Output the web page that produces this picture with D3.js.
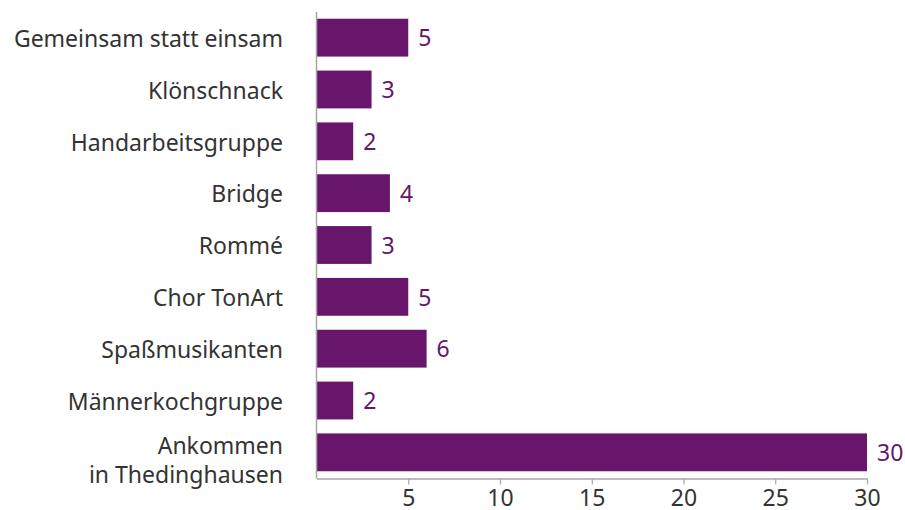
<!DOCTYPE html>
<html>
<head>
<meta charset="utf-8">
<script src="https://cdn.jsdelivr.net/npm/d3@7"></script>
<style>
  body { margin: 0; background: #fff; }
  text { font-family: "Noto Sans", sans-serif; }
</style>
</head>
<body>
<svg id="chart" width="905" height="510"></svg>
<script>
var categories = ['Gemeinsam statt einsam', 'Klönschnack', 'Handarbeitsgruppe', 'Bridge', 'Rommé',
  'Chor TonArt', 'Spaßmusikanten', 'Männerkochgruppe', 'Ankommen\nin Thedinghausen'];
var values = [5, 3, 2, 4, 3, 5, 6, 2, 30];
var tickValues = [5, 10, 15, 20, 25, 30];

var barColor = '#68166b';
var axisColor = '#a6a6a6';
var fontSize = 23;
var svg = d3.select('#chart');

var x = d3.scaleLinear().domain([0, 30]).range([316.5, 867]);
var y = d3.scaleBand().domain(categories).range([12, 478]).paddingInner(0.27).paddingOuter(0.13);

// bars
svg.selectAll('rect.bar').data(values).enter().append('rect')
  .attr('class', 'bar')
  .attr('x', x(0))
  .attr('y', function(d, i) { return y(categories[i]); })
  .attr('width', function(d) { return x(d) - x(0); })
  .attr('height', y.bandwidth())
  .attr('fill', barColor);

// value labels
svg.selectAll('text.val').data(values).enter().append('text')
  .attr('class', 'val')
  .attr('x', function(d) { return x(d) + 10; })
  .attr('y', function(d, i) { return y(categories[i]) + y.bandwidth() / 2; })
  .attr('dy', '0.38em')
  .attr('fill', barColor)
  .attr('font-size', fontSize)
  .text(function(d) { return d; });

// category labels
svg.selectAll('text.cat').data(categories).enter().append('text')
  .attr('class', 'cat')
  .attr('x', 283)
  .attr('y', function(d) { return y(d) + y.bandwidth() / 2; })
  .attr('text-anchor', 'end')
  .attr('fill', '#333')
  .attr('font-size', fontSize)
  .each(function(d) {
    var lines = d.split('\n');
    var el = d3.select(this);
    lines.forEach(function(l, k) {
      el.append('tspan')
        .attr('x', 283)
        .attr('dy', lines.length === 1 ? '0.4em' : (k === 0 ? '2px' : '29px'))
        .text(l);
    });
  });

// y axis line
svg.append('line')
  .attr('x1', x(0)).attr('x2', x(0))
  .attr('y1', 12).attr('y2', 478.5)
  .attr('stroke', axisColor).attr('stroke-width', 1.5);

// x axis
var xAxis = svg.append('g')
  .attr('transform', 'translate(0,478.5)')
  .call(d3.axisBottom(x).tickValues(tickValues).tickSize(6).tickSizeOuter(0).tickPadding(5));
xAxis.select('.domain').attr('stroke', axisColor).attr('stroke-width', 1.5);
xAxis.selectAll('.tick line').attr('stroke', axisColor).attr('stroke-width', 1.2);
xAxis.selectAll('.tick text')
  .attr('font-size', fontSize)
  .attr('fill', '#333')
  .style('font-family', '"Noto Sans", sans-serif');
</script>
</body>
</html>
